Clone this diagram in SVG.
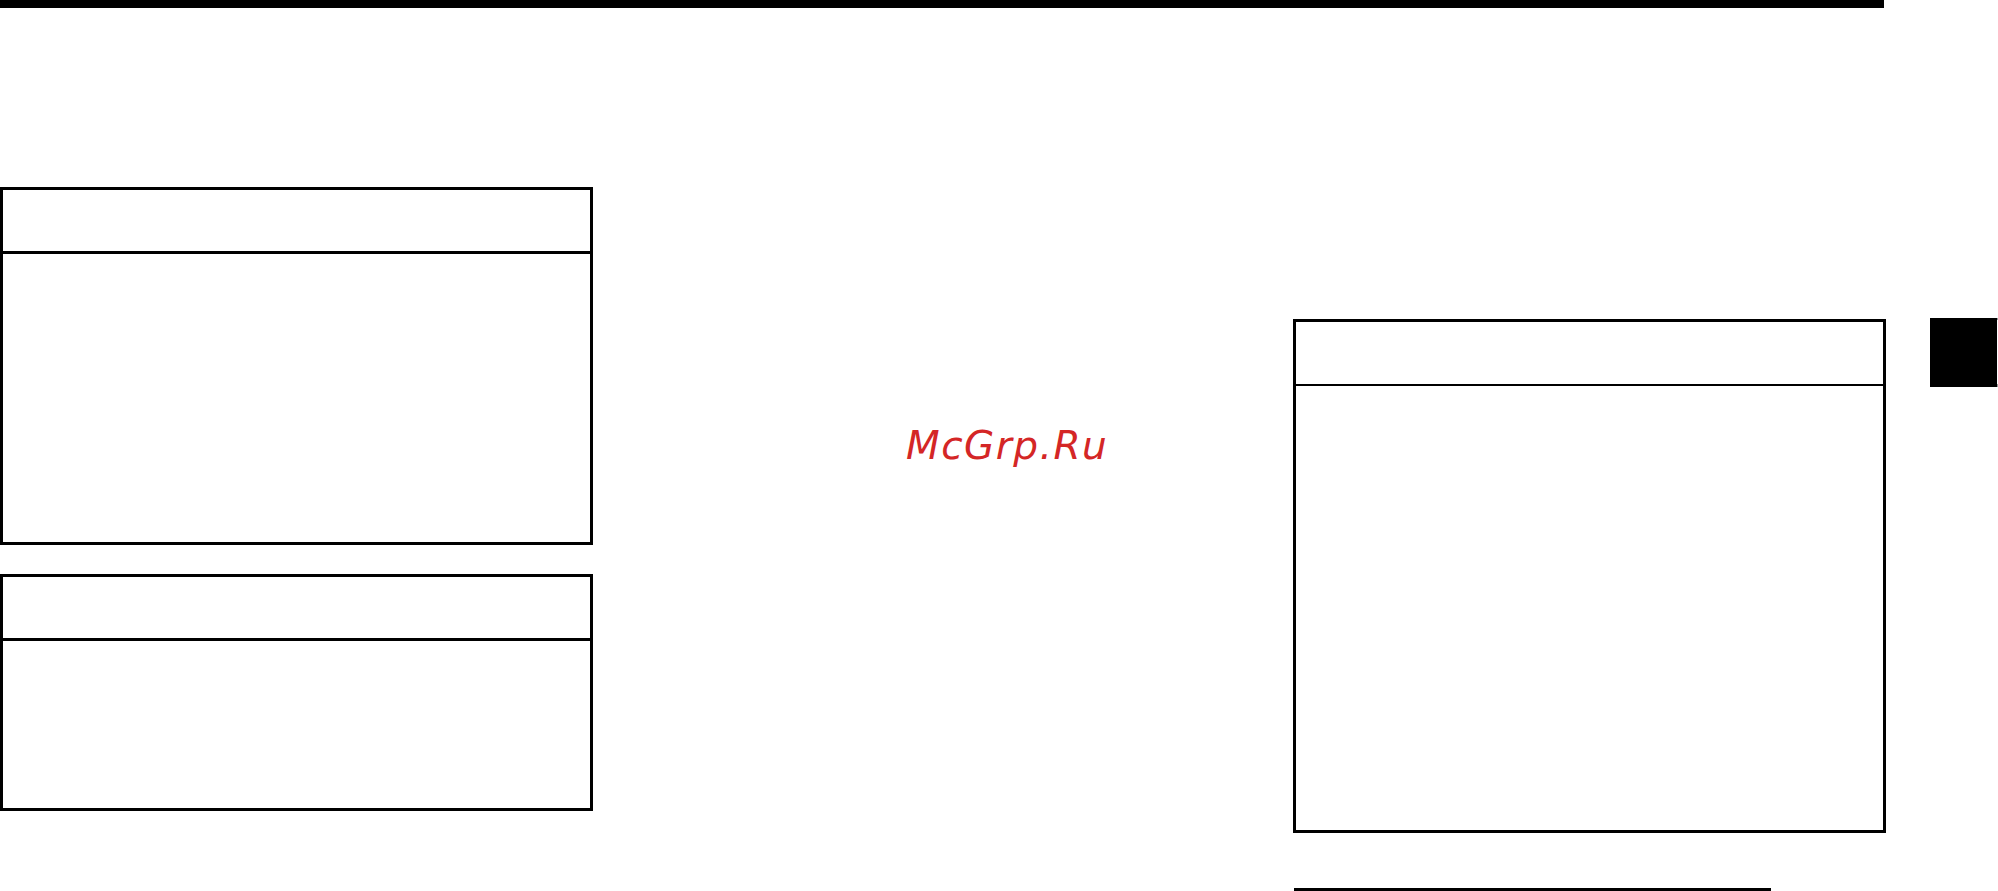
<svg xmlns="http://www.w3.org/2000/svg" width="1998" height="891" viewBox="0 0 1998 891">
<style>
.box{fill:none;stroke:#000;stroke-width:3}
.fill{fill:#000;stroke:none}
.edge{fill:#999;stroke:none}
.mark{font-family:"DejaVu Sans",sans-serif;font-style:oblique;font-size:39px;letter-spacing:1.5px;fill:#d42626}
</style>
<rect width="1998" height="891" fill="#fff"/>
<g id="top-bar"><rect class="fill" x="0" y="0" width="1884" height="8"/></g>
<g id="box-1">
<rect class="box" x="1.5" y="188.5" width="590" height="355"/>
<line class="box" x1="0" y1="252.5" x2="593" y2="252.5"/>
</g>
<g id="box-2">
<rect class="box" x="1.5" y="575.5" width="590" height="234"/>
<line class="box" x1="0" y1="639.5" x2="593" y2="639.5"/>
</g>
<g id="box-3">
<rect class="box" x="1294.5" y="320.5" width="590" height="511"/>
<line class="box" x1="1293" y1="385" x2="1886" y2="385" style="stroke-width:2"/>
</g>
<g id="bottom-rule"><rect class="fill" x="1294" y="888" width="477" height="3"/></g>
<g id="side-tab">
<rect class="fill" x="1930" y="318" width="67" height="69"/>
<rect class="edge" x="1997" y="318" width="1" height="2"/>
<rect class="edge" x="1997" y="384" width="1" height="3"/>
</g>
<g id="watermark"><text class="mark" x="906" y="459">McGrp.Ru</text></g>
<g id="connectors"/>
</svg>
